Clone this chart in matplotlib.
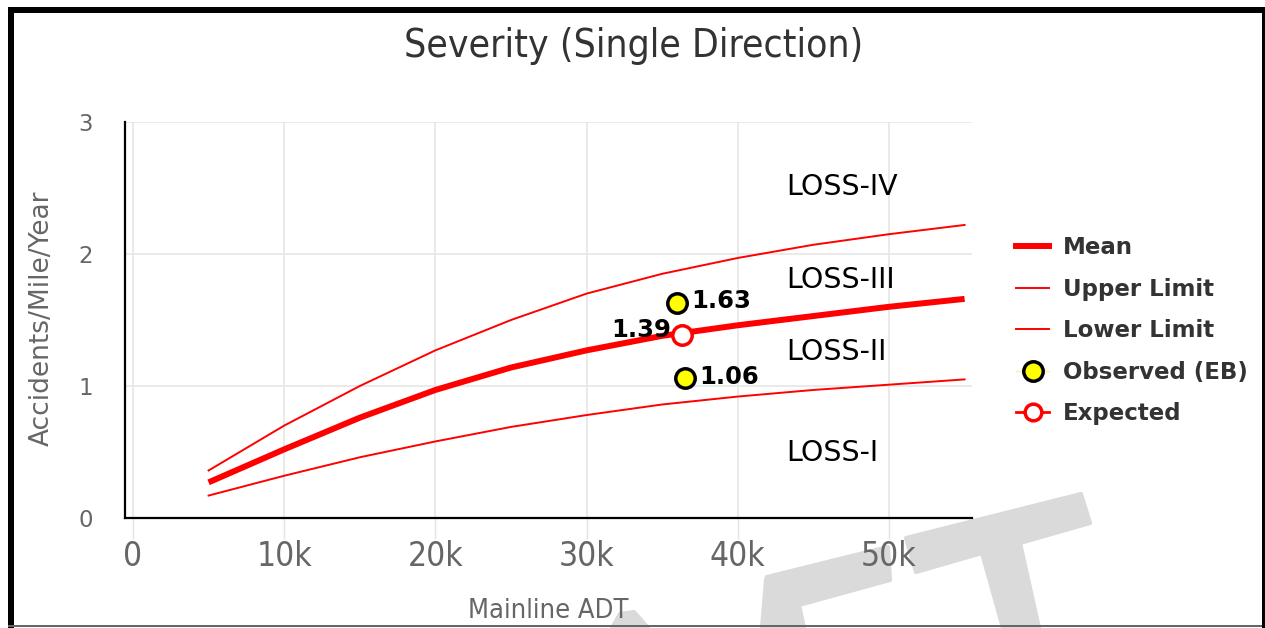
import numpy as np
import matplotlib
matplotlib.use("Agg")
import matplotlib.pyplot as plt
from matplotlib import font_manager
from matplotlib.lines import Line2D
from matplotlib.patches import Polygon, Rectangle

# data
adt = [5000, 10000, 15000, 20000, 25000, 30000, 35000, 40000, 45000, 50000, 55000]
mean = [0.27, 0.52, 0.76, 0.97, 1.14, 1.27, 1.38, 1.46, 1.53, 1.60, 1.66]
upper = [0.36, 0.70, 1.00, 1.27, 1.50, 1.70, 1.85, 1.97, 2.07, 2.15, 2.22]
lower = [0.17, 0.32, 0.46, 0.58, 0.69, 0.78, 0.86, 0.92, 0.97, 1.01, 1.05]

obs_x = [36000, 36500]
obs_y = [1.63, 1.06]
exp_x = [36300]
exp_y = [1.39]

zones = ["LOSS-IV", "LOSS-III", "LOSS-II", "LOSS-I"]
zone_y = [2.51, 1.80, 1.26, 0.49]
zone_x = 43200

xticks = [0, 10000, 20000, 30000, 40000, 50000]
xticklabels = ["0", "10k", "20k", "30k", "40k", "50k"]
yticks = [0, 1, 2, 3]

names = set(f.name for f in font_manager.fontManager.ttflist)
narrow = "Liberation Sans Narrow" if "Liberation Sans Narrow" in names else "DejaVu Sans"

W, H = 1265, 628
fig = plt.figure(figsize=(W / 100, H / 100), dpi=100)

def fx(px):
    return px / W

def fy(py):
    return 1 - py / H

ax = fig.add_axes([fx(125), fy(518), fx(972 - 125), (518 - 122) / H])
ax.patch.set_alpha(0)

ax.plot(adt, upper, color="#ff0000", lw=1.4, zorder=3)
ax.plot(adt, lower, color="#ff0000", lw=1.4, zorder=3)
ax.plot(adt, mean, color="#ff0000", lw=4.3, zorder=3, solid_capstyle="butt")
ax.plot(obs_x, obs_y, ls="none", marker="o", ms=14, mfc="#ffff00", mec="black", mew=2.5, zorder=5)
ax.plot(exp_x, exp_y, ls="none", marker="o", ms=14, mfc="white", mec="#ff0000", mew=2.5, zorder=5)

ax.annotate(f"{obs_y[0]:.2f}", (obs_x[0], obs_y[0]), xytext=(10, 1), textcoords="offset points",
            ha="left", va="center", fontsize=17.5, fontweight="bold", color="black", zorder=6)
ax.annotate(f"{obs_y[1]:.2f}", (obs_x[1], obs_y[1]), xytext=(10, 1), textcoords="offset points",
            ha="left", va="center", fontsize=17.5, fontweight="bold", color="black", zorder=6)
ax.annotate(f"{exp_y[0]:.2f}", (exp_x[0], exp_y[0]), xytext=(-8, 3), textcoords="offset points",
            ha="right", va="center", fontsize=17.5, fontweight="bold", color="black", zorder=6)

for lab, yv in zip(zones, zone_y):
    ax.text(zone_x, yv, lab, fontsize=20.5, color="black", ha="left", va="center")

ax.set_xlim(-529, 55490)
ax.set_ylim(0, 3)
ax.set_xticks(xticks)
ax.set_xticklabels(xticklabels, fontsize=24, color="#666666", family=narrow, stretch="condensed")
ax.set_yticks(yticks)
ax.set_yticklabels([str(v) for v in yticks], fontsize=16.5, color="#666666")
ax.tick_params(axis="x", length=15, width=1, color="#e3e3e3", pad=1)
ax.tick_params(axis="y", length=0, pad=23)
ax.grid(True, color="#e6e6e6", lw=1.2, zorder=0)
ax.set_axisbelow(True)
for s in ["top", "right"]:
    ax.spines[s].set_visible(False)
for s in ["left", "bottom"]:
    ax.spines[s].set_color("black")
    ax.spines[s].set_linewidth(1.6)
    ax.spines[s].set_zorder(4)

handles = [
    Line2D([], [], color="#ff0000", lw=4.3),
    Line2D([], [], color="#ff0000", lw=1.4),
    Line2D([], [], color="#ff0000", lw=1.4),
    Line2D([], [], color="#f5f59a", lw=1, marker="o", ms=14, mfc="#ffff00", mec="black", mew=2.5),
    Line2D([], [], color="#ff0000", lw=2, marker="o", ms=12, mfc="white", mec="#ff0000", mew=2.5),
]
labels = ["Mean", "Upper Limit", "Lower Limit", "Observed (EB)", "Expected"]
leg = fig.legend(handles, labels, loc="upper left", bbox_to_anchor=(fx(1016), fy(236)),
                 frameon=False, borderpad=0, borderaxespad=0, handlelength=1.45,
                 handletextpad=0.6, labelspacing=0.81,
                 prop={"size": 16.5, "weight": "bold"})
for t in leg.get_texts():
    t.set_color("#333333")

fig.text(fx(634), fy(46), "Severity (Single Direction)", fontsize=28, color="#333333",
         ha="center", va="center", family=narrow, stretch="condensed")
fig.text(fx(548), fy(611), "Mainline ADT", fontsize=19.5, color="#666666",
         ha="center", va="center", family=narrow, stretch="condensed")
fig.text(fx(42), fy(318), "Accidents/Mile/Year", fontsize=19, color="#666666",
         ha="center", va="center", rotation=90)

# watermark pieces
wm = "#dadada"
pieces = [
    [(906, 538), (1081, 494), (1090, 523), (1020, 543), (1039, 628), (1003, 628), (982, 553), (916, 572)],
    [(762, 628), (766, 580), (767, 577), (888, 547), (890, 580), (799, 605), (804, 628)],
    [(612, 628), (620, 614), (634, 612), (648, 628)],
]
for pts in pieces:
    fig.patches.append(Polygon([(fx(a), fy(b)) for a, b in pts], closed=True, fc=wm, ec=wm,
                               lw=3, joinstyle="round", transform=fig.transFigure, zorder=-1))

# frame
frame = [
    (8, 7, 1265 - 8, 6, "black"),
    (8, 7, 6, 628 - 7, "black"),
    (1262, 7, 3, 628 - 7, "black"),
    (8, 625, 1262 - 8, 2, "#666666"),
]
for x0, y0, w, h, c in frame:
    fig.patches.append(Rectangle((fx(x0), fy(y0 + h)), w / W, h / H, fc=c, ec="none",
                                 transform=fig.transFigure, zorder=10))

fig.savefig("out.png", dpi=100)
